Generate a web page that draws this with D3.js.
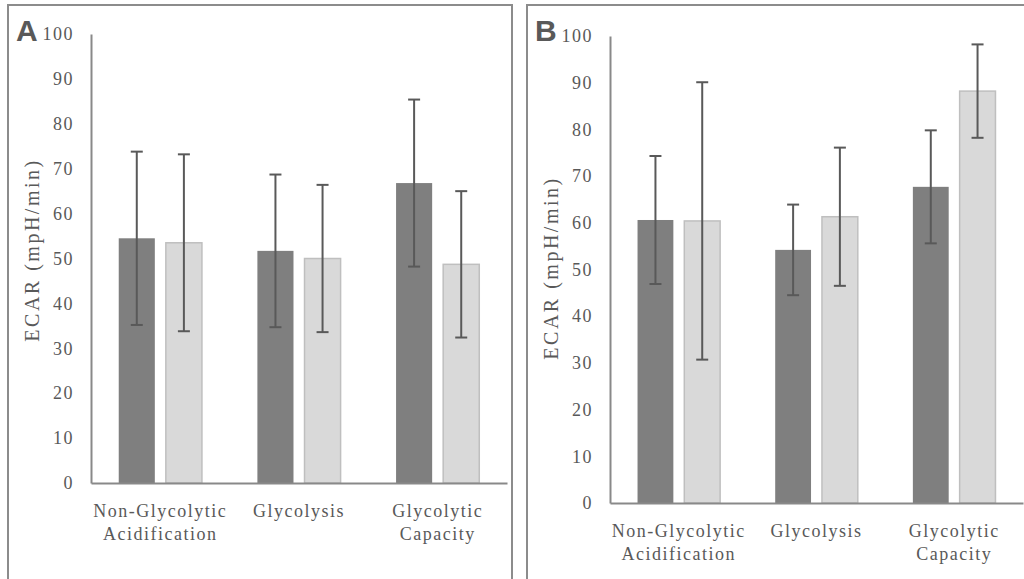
<!DOCTYPE html>
<html>
<head>
<meta charset="utf-8">
<script src="https://cdn.jsdelivr.net/npm/d3@7"></script>
<style>
	body { margin: 0; background: #fff; }
	svg text { font-family: "Liberation Serif", "Times New Roman", serif; fill: #595959; }
</style>
</head>
<body>
<div id="chart-area"></div>
<script>

// Data
var categories = [["Non-Glycolytic", "Acidification"], ["Glycolysis"], ["Glycolytic", "Capacity"]];
var series = ["dark", "light"];
var yTicks = [0, 10, 20, 30, 40, 50, 60, 70, 80, 90, 100];

var meanA_dark = [54.5, 51.7, 66.8];
var errA_dark = [19.3, 17.0, 18.6];
var meanA_light = [53.5, 50.0, 48.7];
var errA_light = [19.7, 16.4, 16.3];

var meanB_dark = [60.6, 54.2, 67.7];
var errB_dark = [13.7, 9.7, 12.1];
var meanB_light = [60.4, 61.3, 88.2];
var errB_light = [29.7, 14.8, 10.0];

var width = 1024,
	height = 579;
var serif = "'Liberation Serif', 'Times New Roman', serif";

var svg = d3.select("#chart-area").append("svg")
	.attr("width", width)
	.attr("height", height);

var fillColor = { dark: "#7f7f7f", light: "#d9d9d9" };
var strokeColor = { dark: "none", light: "#bfbfbf" };

var drawPanel = function(opt) {
	// panel frame (open at the bottom / right, like the cropped figure)
	svg.append("rect")
		.attr("x", opt.frame[0])
		.attr("y", opt.frame[1])
		.attr("width", opt.frame[2])
		.attr("height", opt.frame[3])
		.attr("fill", "none")
		.attr("stroke", "#8c8c8c")
		.attr("stroke-width", 2);

	svg.append("text")
		.attr("x", opt.letterX)
		.attr("y", 41)
		.style("font-family", "'Liberation Sans', Arial, sans-serif")
		.style("font-weight", "bold")
		.style("font-size", "30px")
		.text(opt.letter);

	var x = d3.scaleBand()
		.domain(d3.range(categories.length))
		.range([opt.left, opt.right])
		.paddingInner(0.4)
		.paddingOuter(0.2);

	var xs = d3.scaleBand()
		.domain(series)
		.range([0, x.bandwidth()])
		.paddingInner(0.234);

	var y = d3.scaleLinear()
		.domain([0, 100])
		.range([opt.bottom, opt.top]);

	var g = svg.append("g");

	// y axis
	var yAxis = d3.axisLeft(y).tickValues(yTicks).tickSize(0).tickPadding(17);
	var ya = g.append("g")
		.attr("transform", "translate(" + opt.left + ",0)")
		.call(yAxis);
	ya.select(".domain").attr("stroke", "#898989").attr("stroke-width", 2);
	ya.selectAll("text")
		.style("font-size", "18px")
		.style("font-family", serif)
		.attr("fill", "#595959")
		.attr("letter-spacing", 1.5);

	var rows = [];
	series.forEach(function(s) {
		var m = opt.means[s], e = opt.errs[s];
		m.forEach(function(v, i) {
			rows.push({ cat: i, s: s, v: v, e: e[i] });
		});
	});

	g.selectAll("rect.bar")
		.data(rows)
		.enter()
		.append("rect")
		.attr("class", "bar")
		.attr("x", function(d) { return x(d.cat) + xs(d.s); })
		.attr("width", xs.bandwidth())
		.attr("y", function(d) { return y(d.v); })
		.attr("height", function(d) { return y(0) - y(d.v); })
		.attr("fill", function(d) { return fillColor[d.s]; })
		.attr("stroke", function(d) { return strokeColor[d.s]; })
		.attr("stroke-width", 1.5);

	// x axis line
	var xAxis = d3.axisBottom(x).tickSize(0).tickFormat("");
	var xa = g.append("g")
		.attr("transform", "translate(0," + opt.bottom + ")")
		.call(xAxis);
	xa.select(".domain").attr("stroke", "#898989").attr("stroke-width", 2);

	// error bars
	var cx = function(d) { return x(d.cat) + xs(d.s) + xs.bandwidth() / 2; };
	var eb = g.selectAll("g.err")
		.data(rows)
		.enter()
		.append("g")
		.attr("class", "err")
		.attr("stroke", "#595959")
		.attr("stroke-width", 2);
	eb.append("line")
		.attr("x1", cx).attr("x2", cx)
		.attr("y1", function(d) { return y(d.v + d.e); })
		.attr("y2", function(d) { return y(d.v - d.e); });
	eb.append("line")
		.attr("x1", function(d) { return cx(d) - 6; })
		.attr("x2", function(d) { return cx(d) + 6; })
		.attr("y1", function(d) { return y(d.v + d.e); })
		.attr("y2", function(d) { return y(d.v + d.e); });
	eb.append("line")
		.attr("x1", function(d) { return cx(d) - 6; })
		.attr("x2", function(d) { return cx(d) + 6; })
		.attr("y1", function(d) { return y(d.v - d.e); })
		.attr("y2", function(d) { return y(d.v - d.e); });

	// category labels
	categories.forEach(function(lines, i) {
		lines.forEach(function(t, j) {
			g.append("text")
				.attr("x", x(i) + x.bandwidth() / 2)
				.attr("y", opt.bottom + 34 + j * 23)
				.attr("text-anchor", "middle")
				.attr("letter-spacing", 1.5)
				.style("font-family", serif)
				.style("font-size", "18px")
				.text(t);
		});
	});

	// y axis title
	g.append("text")
		.attr("transform", "translate(" + opt.titleX + "," + opt.titleY + ") rotate(-90)")
		.attr("text-anchor", "middle")
		.attr("letter-spacing", 2.5)
		.style("font-family", serif)
		.style("font-size", "20px")
		.text("ECAR (mpH/min)");
};

drawPanel({
	letter: "A", letterX: 16,
	frame: [8, 5, 504, 600],
	left: 91, right: 507, top: 34, bottom: 483,
	titleX: 39, titleY: 250,
	means: { dark: meanA_dark, light: meanA_light },
	errs: { dark: errA_dark, light: errA_light }
});

drawPanel({
	letter: "B", letterX: 535,
	frame: [527, 5, 520, 600],
	left: 610, right: 1023, top: 36, bottom: 503,
	titleX: 558, titleY: 268,
	means: { dark: meanB_dark, light: meanB_light },
	errs: { dark: errB_dark, light: errB_light }
});

</script>
</body>
</html>
